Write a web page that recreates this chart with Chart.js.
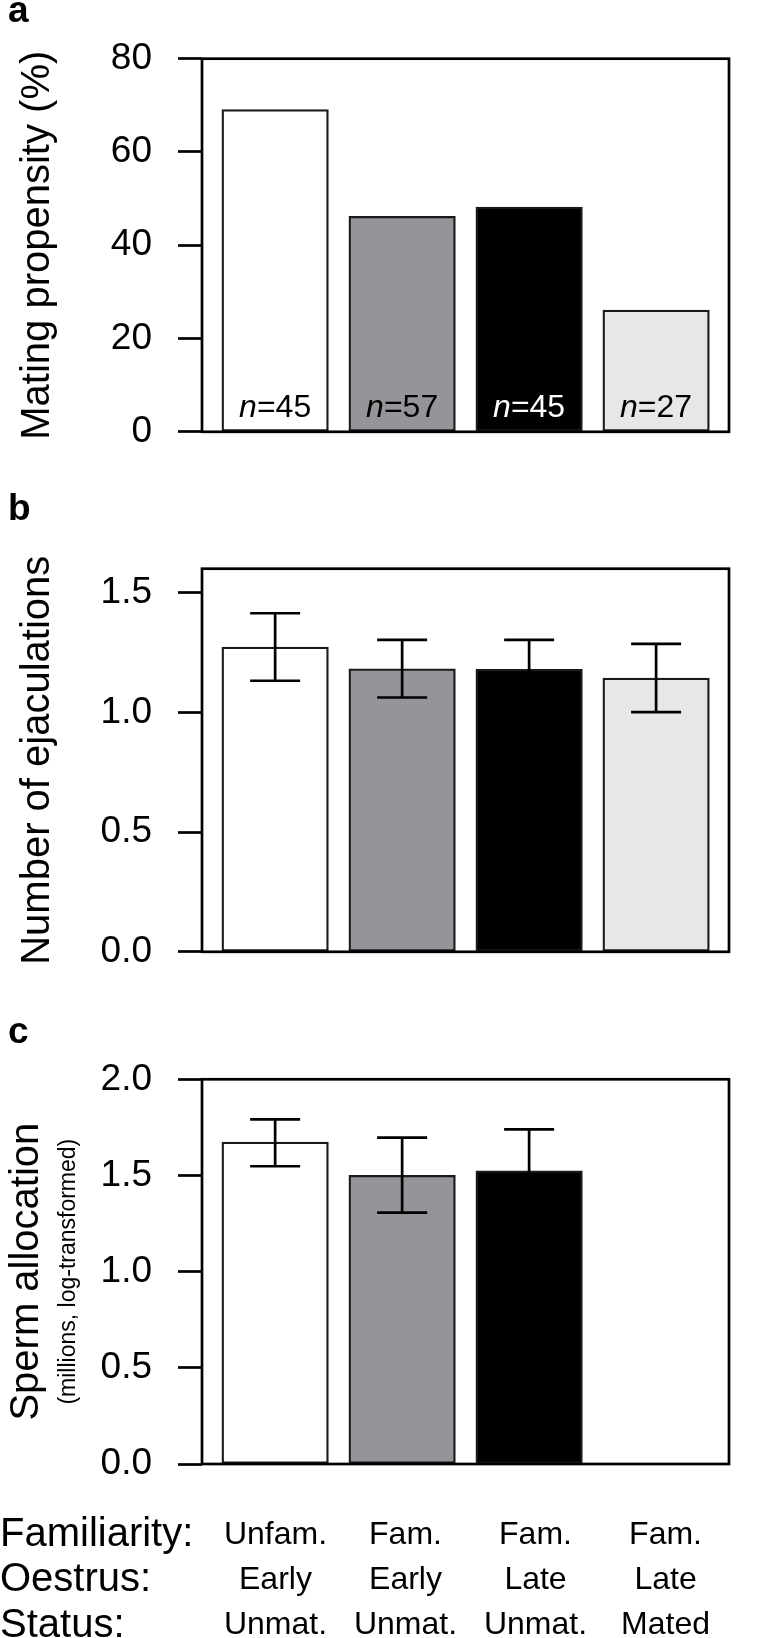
<!DOCTYPE html>
<html><head><meta charset="utf-8">
<script src="https://cdn.jsdelivr.net/npm/chart.js@4/dist/chart.umd.min.js"></script>
<style>
html,body{margin:0;padding:0;background:#fff;}
#wrap{position:relative;width:778px;height:1638px;overflow:hidden;background:#fff;}
canvas{position:absolute;left:0;}
</style></head><body>
<div id="wrap">
<canvas id="ca" width="778" height="480" style="top:0px"></canvas>
<canvas id="cb" width="778" height="520" style="top:480px"></canvas>
<canvas id="cc" width="778" height="638" style="top:1000px"></canvas>
</div>
<script>
// ---- data ----
const familiarity = ['Unfam.', 'Fam.', 'Fam.', 'Fam.'];
const oestrus = ['Early', 'Early', 'Late', 'Late'];
const status = ['Unmat.', 'Unmat.', 'Unmat.', 'Mated'];
const rowTitles = ['Familiarity:', 'Oestrus:', 'Status:'];
const sampleSizes = [45, 57, 45, 27];
const matingPropensity = [69.1, 46.2, 48.2, 26.1];
const ejaculations = [1.273, 1.182, 1.180, 1.143];
const ejaculationsLow = [1.132, 1.062, 1.060, 1.001];
const ejaculationsHigh = [1.414, 1.303, 1.303, 1.286];
const spermAllocation = [1.674, 1.501, 1.524, null];
const spermLow = [1.548, 1.307, 1.310, null];
const spermHigh = [1.792, 1.697, 1.740, null];
const ticksA = [0, 20, 40, 60, 80];
const ticksB = [0, 0.5, 1.0, 1.5];
const ticksC = [0, 0.5, 1.0, 1.5, 2.0];
const barColors = ['#ffffff', '#939598', '#000000', '#e6e7e8'];
const nLabelColors = ['#000000', '#000000', '#ffffff', '#000000'];

const FONT = "'Liberation Sans', Arial, Helvetica, sans-serif";
Chart.defaults.font.family = FONT;
Chart.defaults.color = '#000';

const groupIndex = familiarity.map((_, i) => i + 1);

// ---- plugins ----
const framePlugin = {
  id: 'frame',
  afterDatasetsDraw(chart) {
    const { ctx, chartArea: a } = chart;
    ctx.save();
    ctx.strokeStyle = '#000';
    ctx.lineWidth = 2.7;
    ctx.strokeRect(a.left, a.top, a.right - a.left, a.bottom - a.top);
    ctx.restore();
  }
};

const errorBarPlugin = {
  id: 'errbars',
  afterDatasetsDraw(chart, args, opts) {
    if (!opts || !opts.low) return;
    const { ctx } = chart;
    const meta = chart.getDatasetMeta(0);
    const ys = chart.scales.y;
    ctx.save();
    ctx.strokeStyle = '#000';
    ctx.lineWidth = 2.7;
    ctx.lineCap = 'butt';
    opts.low.forEach((lo, i) => {
      const hi = opts.high[i];
      if (lo == null || hi == null) return;
      const x = meta.data[i].x;
      const y1 = ys.getPixelForValue(lo), y2 = ys.getPixelForValue(hi);
      const hw = 25;
      ctx.beginPath();
      ctx.moveTo(x, y1); ctx.lineTo(x, y2);
      ctx.moveTo(x - hw, y1); ctx.lineTo(x + hw, y1);
      ctx.moveTo(x - hw, y2); ctx.lineTo(x + hw, y2);
      ctx.stroke();
    });
    ctx.restore();
  }
};

const nLabelPlugin = {
  id: 'nlabels',
  afterDatasetsDraw(chart, args, opts) {
    if (!opts || !opts.n) return;
    const { ctx, chartArea } = chart;
    const meta = chart.getDatasetMeta(0);
    const size = 32;
    ctx.save();
    ctx.textBaseline = 'alphabetic';
    opts.n.forEach((n, i) => {
      const x = meta.data[i].x;
      const y = chartArea.bottom - 15;
      const fi = 'italic ' + size + 'px ' + FONT;
      const fr = size + 'px ' + FONT;
      ctx.font = fi; const w1 = ctx.measureText('n').width;
      ctx.font = fr; const rest = '=' + n; const w2 = ctx.measureText(rest).width;
      const x0 = x - (w1 + w2) / 2;
      ctx.fillStyle = opts.colors[i];
      ctx.textAlign = 'left';
      ctx.font = fi; ctx.fillText('n', x0, y);
      ctx.font = fr; ctx.fillText(rest, x0 + w1, y);
    });
    ctx.restore();
  }
};

const letterPlugin = {
  id: 'letter',
  afterDraw(chart, args, opts) {
    if (!opts || !opts.text) return;
    const { ctx } = chart;
    ctx.save();
    ctx.font = 'bold 37px ' + FONT;
    ctx.fillStyle = '#000';
    ctx.textAlign = 'left';
    ctx.textBaseline = 'alphabetic';
    ctx.fillText(opts.text, 8, opts.y);
    ctx.restore();
  }
};

const rowTitlePlugin = {
  id: 'rowtitles',
  afterDraw(chart, args, opts) {
    if (!opts || !opts.titles) return;
    const { ctx } = chart;
    const s = chart.scales.x2;
    const lh = s.options.ticks.font.size * s.options.ticks.font.lineHeight;
    const top = s.top + s.options.ticks.padding;
    ctx.save();
    ctx.font = '40px ' + FONT;
    ctx.fillStyle = '#000';
    ctx.textAlign = 'left';
    ctx.textBaseline = 'middle';
    opts.titles.forEach((t, i) => ctx.fillText(t, 0, top + lh * (i + 0.5)));
    ctx.restore();
  }
};

const plugins = [framePlugin, errorBarPlugin, nLabelPlugin, letterPlugin, rowTitlePlugin];

function barDataset(values) {
  return {
    data: groupIndex.map((g, i) => ({ x: g, y: values[i] })),
    backgroundColor: barColors,
    borderColor: '#1a1a1a',
    borderWidth: 2.3,
    borderSkipped: false,
    barThickness: 106.5
  };
}

function yScale(max, ticks, fmt, title, extra) {
  return Object.assign({
    type: 'linear', position: 'left', min: 0, max: max,
    afterBuildTicks: s => { s.ticks = ticks.map(v => ({ value: v })); },
    afterFit: s => { s.width = 202; },
    ticks: { font: { size: 37 }, color: '#000', padding: 26, callback: fmt },
    grid: { display: true, drawOnChartArea: false, drawTicks: true, tickLength: 24, tickWidth: 2.7, tickColor: '#000' },
    border: { display: false },
    title: { display: true, text: title, color: '#000', font: { size: 40, lineHeight: 1 }, padding: { top: 18, bottom: 0 } }
  }, extra || {});
}

const xScale = { type: 'linear', min: 0.424, max: 4.574, offset: false, display: false };
const baseOpts = { responsive: false, animation: false, devicePixelRatio: 1 };

// ---- panel a ----
new Chart(document.getElementById('ca'), {
  type: 'bar',
  data: { datasets: [barDataset(matingPropensity)] },
  options: Object.assign({}, baseOpts, {
    layout: { padding: { top: 58.7, bottom: 37, left: 0, right: 49 } },
    plugins: {
      legend: { display: false }, tooltip: { enabled: false },
      letter: { text: 'a', y: 21.5 },
      nlabels: { n: sampleSizes, colors: nLabelColors }
    },
    scales: {
      x: xScale,
      y: yScale(80, ticksA, v => String(v), 'Mating propensity (%)')
    }
  }),
  plugins: plugins
});

// ---- panel b ----
new Chart(document.getElementById('cb'), {
  type: 'bar',
  data: { datasets: [barDataset(ejaculations)] },
  options: Object.assign({}, baseOpts, {
    layout: { padding: { top: 88.7, bottom: 47.7, left: 0, right: 49 } },
    plugins: {
      legend: { display: false }, tooltip: { enabled: false },
      letter: { text: 'b', y: 39.5 },
      errbars: { low: ejaculationsLow, high: ejaculationsHigh }
    },
    scales: {
      x: xScale,
      y: yScale(1.6, ticksB, v => Number(v).toFixed(1), 'Number of ejaculations')
    }
  }),
  plugins: plugins
});

// ---- panel c ----
new Chart(document.getElementById('cc'), {
  type: 'bar',
  data: { datasets: [barDataset(spermAllocation)] },
  options: Object.assign({}, baseOpts, {
    layout: { padding: { top: 79.3, bottom: 0, left: 0, right: 49 } },
    plugins: {
      legend: { display: false }, tooltip: { enabled: false },
      letter: { text: 'c', y: 42.5 },
      errbars: { low: spermLow, high: spermHigh },
      rowtitles: { titles: rowTitles }
    },
    scales: {
      x: xScale,
      x2: {
        type: 'linear', position: 'bottom', min: 0.435, max: 4.488, offset: false,
        afterBuildTicks: s => { s.ticks = groupIndex.map(v => ({ value: v })); },
        afterFit: s => { s.height = 174; },
        ticks: {
          autoSkip: false, maxRotation: 0, minRotation: 0, padding: 48,
          font: { size: 32, lineHeight: 1.42 }, color: '#000',
          callback: (v, i) => [familiarity[i], oestrus[i], status[i]]
        },
        grid: { display: false, drawTicks: false },
        border: { display: false }
      },
      y: yScale(2, ticksC, v => Number(v).toFixed(1), '', {
        weight: 0,
        afterFit: s => { s.width = 152; },
        title: { display: true, text: '(millions, log-transformed)', color: '#000', font: { size: 23, lineHeight: 1 }, padding: { top: 7, bottom: 0 } }
      }),
      y2: {
        type: 'linear', position: 'left', min: 0, max: 2, weight: 1,
        afterFit: s => { s.width = 50; },
        ticks: { display: false },
        grid: { display: false, drawTicks: false },
        border: { display: false },
        title: { display: true, text: 'Sperm allocation', color: '#000', font: { size: 40, lineHeight: 1 }, padding: { top: 7, bottom: 0 } }
      }
    }
  }),
  plugins: plugins
});
</script>
</body></html>
